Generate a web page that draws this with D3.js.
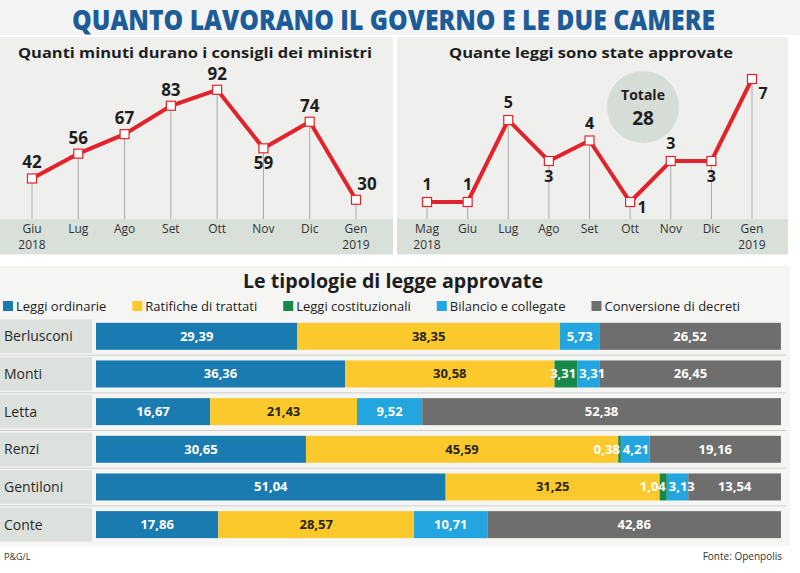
<!DOCTYPE html>
<html><head><meta charset="utf-8">
<script src="https://cdn.jsdelivr.net/npm/d3@7"></script>
<style>body{margin:0;background:#fff}svg{display:block}text{font-family:"Open Sans",sans-serif}</style>
</head><body><svg id="c" width="800" height="573"></svg>
<script>
// ---- data ----
const monthsMin = ["Giu|2018","Lug","Ago","Set","Ott","Nov","Dic","Gen|2019"];
const minutes = [42,56,67,83,92,59,74,30];
const minLabelPos = ["above","above","above","above","above","below","above","right"];

const monthsLaws = ["Mag|2018","Giu","Lug","Ago","Set","Ott","Nov","Dic","Gen|2019"];
const laws = [1,1,5,3,4,1,3,3,7];
const lawLabelPos = ["above","above","above","below","above","belowright","above","below","right"];
const lawsTotal = 28;

const leaders = ["Berlusconi","Monti","Letta","Renzi","Gentiloni","Conte"];
const types = ["Leggi ordinarie","Ratifiche di trattati","Leggi costituzionali","Bilancio e collegate","Conversione di decreti"];
const ordinarie   = [29.39,36.36,16.67,30.65,51.04,17.86];
const ratifiche   = [38.35,30.58,21.43,45.59,31.25,28.57];
const costituz    = [0,3.31,0,0.38,1.04,0];
const bilancio    = [5.73,3.31,9.52,4.21,3.13,10.71];
const conversione = [26.52,26.45,52.38,19.16,13.54,42.86];
const typeColors = ["#1a7bb0","#fcc92c","#17894a","#23a6df","#6e6e6e"];
const typeTextColors = ["#fff","#2a2516","#fff","#fff","#fff"];

const svg = d3.select("#c");
const red = "#e2232b";
const fmt = v => d3.format(".2f")(v).replace(".", ",");

// backgrounds
svg.append("rect").attr("x",0).attr("y",0).attr("width",800).attr("height",35).attr("fill","#f4f4f4");
[[0,393],[397,788]].forEach(([a,b])=>{
  svg.append("rect").attr("x",a).attr("y",37).attr("width",b-a).attr("height",218).attr("fill","#efefed");
  svg.append("rect").attr("x",a).attr("y",219).attr("width",b-a).attr("height",35).attr("fill","#d9dfd9");
});
svg.append("rect").attr("x",0).attr("y",266).attr("width",790).attr("height",280).attr("fill","#f5f5f4");

// title
svg.append("text").attr("x",72).attr("y",30).attr("textLength",643).attr("lengthAdjust","spacingAndGlyphs")
  .attr("font-size",28).attr("font-weight",800).attr("fill","#1c5d99")
  .text("QUANTO LAVORANO IL GOVERNO E LE DUE CAMERE");

function subtitle(x,w,y,txt,size){
  svg.append("text").attr("x",x).attr("y",y).attr("textLength",w).attr("lengthAdjust","spacingAndGlyphs")
    .attr("font-size",size).attr("font-weight",700).attr("fill","#1e1e1e").text(txt);
}
subtitle(18,354,58,"Quanti minuti durano i consigli dei ministri",15);
subtitle(449,284,58,"Quante leggi sono state approvate",15);

function lineChart(months, vals, posArr, xr, yScale, fontSize, aboveOff){
  const x = d3.scalePoint().domain(months).range(xr);
  const g = svg.append("g");
  // axis labels
  months.forEach(m=>{
    const parts = m.split("|");
    parts.forEach((p,i)=>g.append("text").attr("x",x(m)).attr("y",233+i*16).attr("text-anchor","middle")
      .attr("font-size",12).attr("fill","#333").text(p));
  });
  // drop lines
  g.selectAll("line.drop").data(vals).join("line")
    .attr("x1",(d,i)=>x(months[i])).attr("x2",(d,i)=>x(months[i]))
    .attr("y1",d=>yScale(d)).attr("y2",219).attr("stroke","#a9a9a9").attr("stroke-width",1);
  const line = d3.line().x((d,i)=>x(months[i])).y(d=>yScale(d));
  g.append("path").datum(vals).attr("d",line).attr("fill","none").attr("stroke",red).attr("stroke-width",4).attr("stroke-linejoin","miter");
  g.selectAll("rect.m").data(vals).join("rect")
    .attr("x",(d,i)=>x(months[i])-4.5).attr("y",d=>yScale(d)-4.5).attr("width",9).attr("height",9)
    .attr("fill","#fff").attr("stroke",red).attr("stroke-width",1.2);
  g.selectAll("text.v").data(vals).join("text")
    .attr("x",(d,i)=>{const p=posArr[i]; return x(months[i]) + (p==="right"?11:p==="belowright"?12:0);})
    .attr("y",(d,i)=>{const p=posArr[i]; const y=yScale(d);
      return p==="above"? y-aboveOff : p==="below"? y+21 : p==="belowright"? y+11 : p==="right" ? (fontSize>16? y-10 : y+20) : y;})
    .attr("text-anchor","middle")
    .attr("font-size",fontSize).attr("font-weight",700).attr("fill","#1e1e1e").text(d=>d);
}
const yMin = d3.scaleLinear().domain([0,100]).range([253,75.6]);
lineChart(monthsMin, minutes, minLabelPos, [32,356], yMin, 17, 10);
const yLaw = d3.scaleLinear().domain([0,7]).range([222.5,79]);
lineChart(monthsLaws, laws, lawLabelPos, [427,752], yLaw, 16, 12);

// Totale circle
svg.append("circle").attr("cx",643).attr("cy",107).attr("r",36).attr("fill","#d6dcd6");
svg.append("text").attr("x",643).attr("y",100).attr("text-anchor","middle").attr("font-size",14).attr("font-weight",700).attr("fill","#1e1e1e").text("Totale");
svg.append("text").attr("x",643).attr("y",125).attr("text-anchor","middle").attr("font-size",19).attr("font-weight",700).attr("fill","#1e1e1e").text(lawsTotal);

// bottom title
subtitle(243,300,288,"Le tipologie di legge approvate",19);

// legend
let lx = 3;
types.forEach((t,i)=>{
  svg.append("rect").attr("x",lx).attr("y",301).attr("width",10).attr("height",10).attr("fill",typeColors[i]);
  const tx = svg.append("text").attr("x",lx+13).attr("y",311).attr("font-size",13).attr("fill","#222").text(t);
  lx += 13 + tx.node().getComputedTextLength() + 26;
});

// stacked bars
const series = [ordinarie, ratifiche, costituz, bilancio, conversione];
const rows = leaders.map((l,i)=>{ let acc=0; return series.map((s,k)=>{ const o={k, v:s[i], x0:acc, x1:acc+s[i]}; acc+=s[i]; return o; }); });
const xb = d3.scaleLinear().domain([0,100]).range([96,781]);
const yb = d3.scaleBand().domain(leaders).range([317.5,543.5]).padding(0);
const bh = 27, off = 5.3;
leaders.forEach((l,i)=>{
  const y0 = yb(l);
  svg.append("rect").attr("x",0).attr("y",y0+2).attr("width",92).attr("height",yb.bandwidth()-4).attr("fill","#dde1dd");
  if(i>0) svg.append("line").attr("x1",0).attr("x2",786).attr("y1",y0).attr("y2",y0).attr("stroke","#cfcfcf").attr("stroke-width",1);
  svg.append("text").attr("x",4).attr("y",y0+off+bh/2+5).attr("font-size",14).attr("fill","#2a2a2a").text(l);
  const g = svg.append("g");
  const segs = rows[i].filter(d=>d.v>0);
  segs.forEach(d=>{
    g.append("rect").attr("x",xb(d.x0)).attr("y",y0+off).attr("width",xb(d.x1)-xb(d.x0)).attr("height",bh).attr("fill",typeColors[d.k]);
  });
  segs.forEach(d=>{
    const small = d.v < 5;
    let x = (xb(d.x0)+xb(d.x1))/2, anchor = "middle";
    if(small && d.k===2){ x = xb(d.x1) - 1; anchor = "end"; }
    else if(small){ x = xb(d.x0) + 2; anchor = "start"; }
    g.append("text").attr("x", x).attr("y",y0+off+bh/2+4.5).attr("text-anchor", anchor)
      .attr("font-size",13).attr("font-weight",700).attr("fill",typeTextColors[d.k]).text(fmt(d.v));
  });
});

// footer
svg.append("text").attr("x",4).attr("y",560).attr("font-size",9).attr("fill","#333").text("P&G/L");
svg.append("text").attr("x",782).attr("y",560).attr("text-anchor","end").attr("font-size",10).attr("fill","#333").text("Fonte: Openpolis");
</script></body></html>
